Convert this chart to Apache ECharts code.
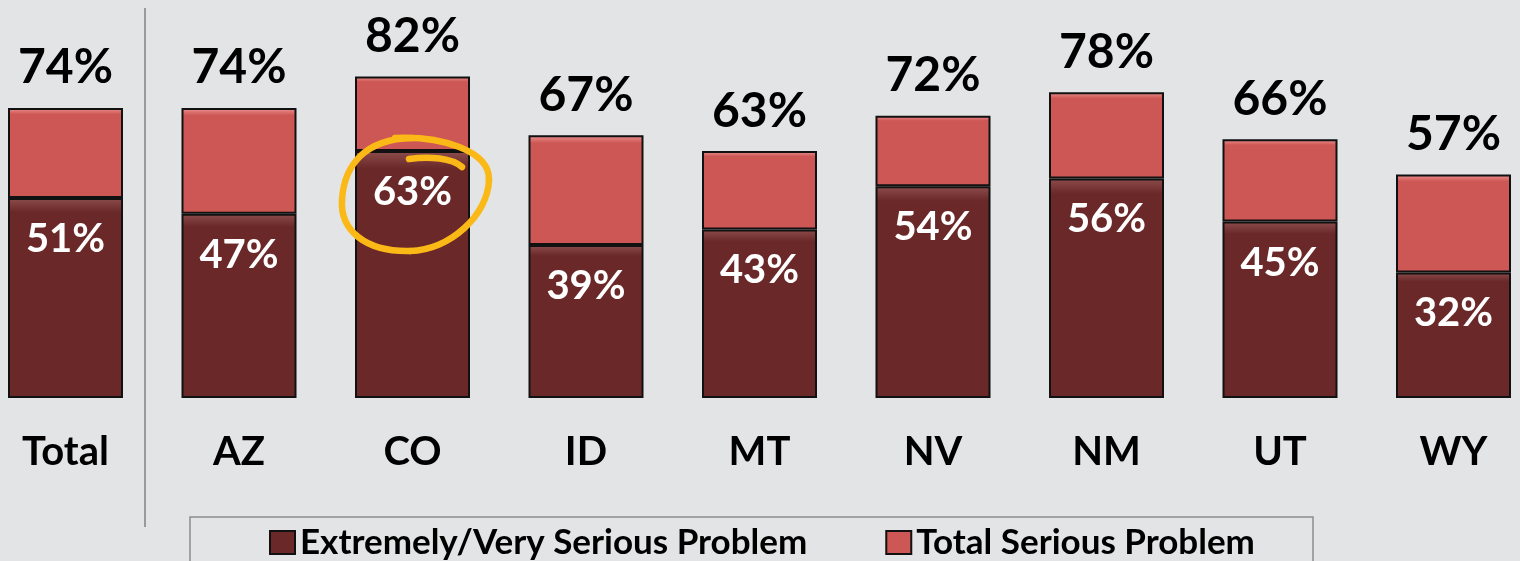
<!DOCTYPE html>
<html>
<head>
<meta charset="utf-8">
<script src="https://cdn.jsdelivr.net/npm/echarts@6/dist/echarts.min.js"></script>
<style>
html,body{margin:0;padding:0;background:#e3e4e6;}
#c{width:1520px;height:561px;}
</style>
</head>
<body>
<div id="c"></div>
<script>
var categories = ['Total', 'AZ', 'CO', 'ID', 'MT', 'NV', 'NM', 'UT', 'WY'];
var extremeVery = [51, 47, 63, 39, 43, 54, 56, 45, 32];
var totalSerious = [74, 74, 82, 67, 63, 72, 78, 66, 57];
var seriesNames = ['Extremely/Very Serious Problem', 'Total Serious Problem'];

var remainder = totalSerious.map(function (t, i) { return t - extremeVery[i]; });
var FONT = 'Lato';

var chart = echarts.init(document.getElementById('c'), null, {renderer: 'canvas'});
function grad(top, base) {
  return {
    type: 'linear', x: 0, y: 0, x2: 0, y2: 1,
    colorStops: [
      {offset: 0, color: top},
      {offset: 0.07, color: base},
      {offset: 1, color: base}
    ]
  };
}
var ORANGE = {fill: 'none', stroke: '#fbb917', lineWidth: 6.5, lineCap: 'round'};
function curve(x1, y1, c1x, c1y, c2x, c2y, x2, y2) {
  return {type: 'bezierCurve', silent: true, z: 100,
    shape: {x1: x1, y1: y1, cpx1: c1x, cpy1: c1y, cpx2: c2x, cpy2: c2y, x2: x2, y2: y2},
    style: ORANGE};
}
chart.setOption({
  backgroundColor: '#e3e4e6',
  animation: false,
  grid: {left: -21.25, width: 1561.5, top: 6, bottom: 163, outerBoundsMode: 'none', containLabel: false},
  xAxis: {
    type: 'category',
    data: categories,
    axisLine: {show: false},
    axisTick: {show: false},
    axisLabel: {
      margin: 34,
      color: '#000',
      fontFamily: FONT,
      fontWeight: 'bold',
      fontSize: 40
    }
  },
  yAxis: {type: 'value', min: 0, max: 100, show: false, splitLine: {show: false}},
  legend: {
    left: 264,
    top: 520,
    itemGap: 78,
    itemWidth: 25,
    itemHeight: 23,
    icon: 'rect',
    data: seriesNames,
    textStyle: {color: '#000', fontFamily: FONT, fontWeight: 'bold', fontSize: 35}
  },
  series: [
    {
      name: seriesNames[0],
      type: 'bar',
      stack: 's',
      barWidth: 115,
      data: extremeVery,
      itemStyle: {color: grad('#8e4d4d', '#6a2828'), borderColor: '#111', borderWidth: 2},
      label: {
        show: true,
        position: 'insideTop',
        distance: 21,
        color: '#fff',
        fontFamily: FONT,
        fontWeight: 'bold',
        fontSize: 40,
        formatter: function (p) { return p.value + '%'; }
      }
    },
    {
      name: seriesNames[1],
      type: 'bar',
      stack: 's',
      barWidth: 115,
      data: remainder,
      itemStyle: {color: grad('#ee9593', '#cd5754'), borderColor: '#111', borderWidth: 2},
      label: {
        show: true,
        position: 'top',
        distance: 16,
        color: '#000',
        fontFamily: FONT,
        fontWeight: 'bold',
        fontSize: 48,
        formatter: function (p) { return totalSerious[p.dataIndex] + '%'; }
      }
    }
  ],
  graphic: [
    {type: 'line', shape: {x1: 145, y1: 8, x2: 145, y2: 527}, style: {stroke: '#9a9a9a', lineWidth: 2}, silent: true},
    {type: 'rect', shape: {x: 190, y: 517, width: 1123, height: 60}, style: {fill: 'none', stroke: '#8c8c8c', lineWidth: 1.5}, silent: true, z: -1},
    curve(409, 159, 430, 156, 452, 158, 462, 167),
    curve(395, 138, 440, 136, 490, 150, 489, 180),
    curve(489, 180, 488, 215, 450, 250, 410, 251),
    curve(410, 251, 365, 252, 340, 230, 342, 200),
    curve(342, 200, 344, 165, 365, 139, 412, 138)
  ]
});
</script>
</body>
</html>
